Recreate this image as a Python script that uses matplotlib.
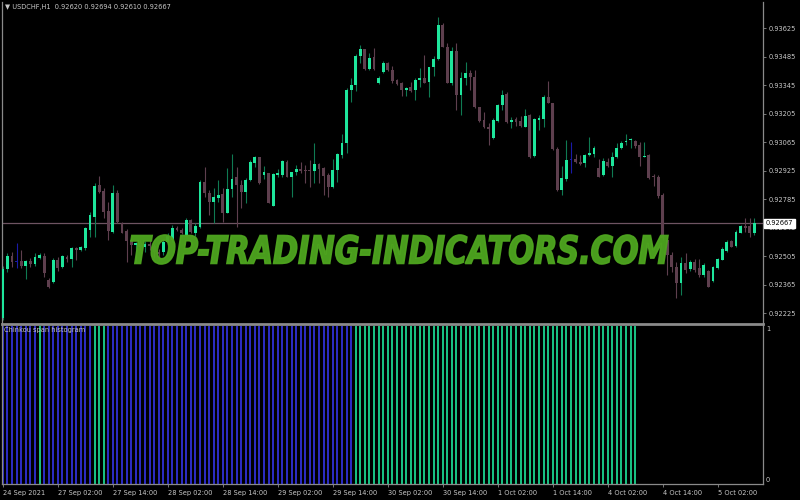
import matplotlib.pyplot as plt
import matplotlib.transforms as mtransforms
from matplotlib.textpath import TextPath
from matplotlib.patches import PathPatch
from matplotlib.font_manager import FontProperties

# USDCHF H1 candles (bar 0 = 24 Sep 14:00)
opens = [0.92200, 0.92442, 0.92505, 0.92476, 0.92481, 0.92456, 0.92481, 0.92466, 0.92496, 0.92505,
         0.92387, 0.92378, 0.92486, 0.92451, 0.92501, 0.92491, 0.92545, 0.92535, 0.92545, 0.92633,
         0.92697, 0.92855, 0.92825, 0.92727, 0.92624, 0.92815, 0.92668, 0.92628, 0.92584, 0.92560,
         0.92569, 0.92550, 0.92565, 0.92555, 0.92525, 0.92525, 0.92574, 0.92584, 0.92643, 0.92633,
         0.92609, 0.92683, 0.92619, 0.92648, 0.92870, 0.92815, 0.92771, 0.92791, 0.92811, 0.92717,
         0.92835, 0.92894, 0.92855, 0.92820, 0.92879, 0.92963, 0.92993, 0.92904, 0.92914, 0.92751,
         0.92904, 0.92904, 0.92968, 0.92894, 0.92919, 0.92934, 0.92929, 0.92929, 0.92924, 0.92958,
         0.92938, 0.92904, 0.92845, 0.92929, 0.93002, 0.93061, 0.93322, 0.93347, 0.93489, 0.93524,
         0.93426, 0.93485, 0.93357, 0.93411, 0.93455, 0.93421, 0.93371, 0.93357, 0.93322, 0.93337,
         0.93322, 0.93371, 0.93381, 0.93362, 0.93435, 0.93475, 0.93642, 0.93534, 0.93357, 0.93514,
         0.93298, 0.93381, 0.93406, 0.93386, 0.93239, 0.93175, 0.93140, 0.93086, 0.93170, 0.93248,
         0.93303, 0.93165, 0.93180, 0.93170, 0.93140, 0.93199, 0.92997, 0.93175, 0.93180, 0.93288,
         0.93258, 0.93032, 0.92830, 0.92884, 0.92978, 0.92983, 0.92968, 0.92963, 0.93002, 0.93007,
         0.92938, 0.92904, 0.92968, 0.92948, 0.92993, 0.93037, 0.93066, 0.93076, 0.93071, 0.93052,
         0.92993, 0.93002, 0.92899, 0.92894, 0.92806, 0.92584, 0.92510, 0.92451, 0.92373, 0.92471,
         0.92442, 0.92476, 0.92446, 0.92412, 0.92432, 0.92382, 0.92446, 0.92486, 0.92530, 0.92579,
         0.92555, 0.92619, 0.92653, 0.92653, 0.92620]
highs = [0.92456, 0.92520, 0.92525, 0.92569, 0.92535, 0.92486, 0.92496, 0.92520, 0.92520, 0.92520,
         0.92397, 0.92496, 0.92501, 0.92510, 0.92510, 0.92550, 0.92550, 0.92555, 0.92648, 0.92722,
         0.92865, 0.92899, 0.92840, 0.92771, 0.92855, 0.92830, 0.92673, 0.92638, 0.92594, 0.92574,
         0.92584, 0.92579, 0.92584, 0.92565, 0.92540, 0.92584, 0.92619, 0.92658, 0.92653, 0.92643,
         0.92692, 0.92688, 0.92668, 0.92879, 0.92943, 0.92830, 0.92840, 0.92879, 0.92840, 0.92938,
         0.93007, 0.92943, 0.92879, 0.92889, 0.92978, 0.92997, 0.92993, 0.92948, 0.92914, 0.92914,
         0.92934, 0.92978, 0.92978, 0.92919, 0.92953, 0.92968, 0.92953, 0.92978, 0.93061, 0.92963,
         0.92943, 0.92914, 0.92983, 0.93012, 0.93106, 0.93332, 0.93381, 0.93499, 0.93544, 0.93524,
         0.93504, 0.93529, 0.93391, 0.93465, 0.93460, 0.93440, 0.93376, 0.93362, 0.93337, 0.93362,
         0.93381, 0.93430, 0.93494, 0.93435, 0.93489, 0.93681, 0.93652, 0.93553, 0.93534, 0.93553,
         0.93411, 0.93460, 0.93421, 0.93421, 0.93239, 0.93214, 0.93160, 0.93184, 0.93253, 0.93322,
         0.93312, 0.93189, 0.93189, 0.93194, 0.93229, 0.93204, 0.93184, 0.93199, 0.93298, 0.93366,
         0.93258, 0.93042, 0.92948, 0.93076, 0.93066, 0.93007, 0.93002, 0.93007, 0.93091, 0.93047,
         0.92983, 0.92988, 0.92988, 0.93017, 0.93061, 0.93071, 0.93106, 0.93086, 0.93076, 0.93066,
         0.93066, 0.93007, 0.92909, 0.92904, 0.92815, 0.92599, 0.92525, 0.92476, 0.92501, 0.92520,
         0.92486, 0.92491, 0.92491, 0.92471, 0.92437, 0.92456, 0.92496, 0.92550, 0.92584, 0.92584,
         0.92633, 0.92658, 0.92692, 0.92692, 0.92694]
lows = [0.92191, 0.92427, 0.92451, 0.92446, 0.92446, 0.92392, 0.92451, 0.92456, 0.92491, 0.92402,
        0.92348, 0.92373, 0.92432, 0.92446, 0.92476, 0.92451, 0.92486, 0.92530, 0.92535, 0.92599,
        0.92599, 0.92815, 0.92692, 0.92584, 0.92619, 0.92668, 0.92619, 0.92476, 0.92510, 0.92476,
        0.92535, 0.92525, 0.92535, 0.92496, 0.92486, 0.92510, 0.92560, 0.92574, 0.92628, 0.92614,
        0.92604, 0.92619, 0.92604, 0.92643, 0.92796, 0.92707, 0.92668, 0.92771, 0.92673, 0.92717,
        0.92796, 0.92648, 0.92742, 0.92766, 0.92874, 0.92943, 0.92860, 0.92884, 0.92766, 0.92751,
        0.92894, 0.92894, 0.92894, 0.92796, 0.92904, 0.92914, 0.92865, 0.92845, 0.92865, 0.92865,
        0.92806, 0.92796, 0.92840, 0.92870, 0.92988, 0.93012, 0.93263, 0.93317, 0.93455, 0.93421,
        0.93421, 0.93421, 0.93352, 0.93406, 0.93416, 0.93357, 0.93347, 0.93293, 0.93293, 0.93312,
        0.93273, 0.93337, 0.93357, 0.93288, 0.93391, 0.93470, 0.93534, 0.93357, 0.93347, 0.93224,
        0.93199, 0.93347, 0.93322, 0.93234, 0.93165, 0.93135, 0.93052, 0.93081, 0.93165, 0.93224,
        0.93160, 0.93135, 0.93145, 0.93140, 0.93140, 0.92988, 0.92993, 0.93125, 0.93140, 0.93258,
        0.93027, 0.92825, 0.92806, 0.92874, 0.92914, 0.92963, 0.92953, 0.92943, 0.92997, 0.92993,
        0.92894, 0.92899, 0.92943, 0.92894, 0.92988, 0.93032, 0.93052, 0.93037, 0.93037, 0.92948,
        0.92993, 0.92884, 0.92850, 0.92791, 0.92584, 0.92412, 0.92427, 0.92299, 0.92314, 0.92422,
        0.92432, 0.92427, 0.92402, 0.92402, 0.92353, 0.92378, 0.92442, 0.92486, 0.92525, 0.92550,
        0.92550, 0.92619, 0.92624, 0.92599, 0.92610]
closes = [0.92442, 0.92505, 0.92476, 0.92476, 0.92456, 0.92481, 0.92466, 0.92501, 0.92510, 0.92422,
          0.92353, 0.92486, 0.92446, 0.92505, 0.92491, 0.92545, 0.92535, 0.92550, 0.92643, 0.92707,
          0.92850, 0.92820, 0.92722, 0.92628, 0.92815, 0.92673, 0.92619, 0.92579, 0.92560, 0.92569,
          0.92550, 0.92565, 0.92555, 0.92525, 0.92515, 0.92574, 0.92604, 0.92643, 0.92633, 0.92619,
          0.92683, 0.92624, 0.92653, 0.92870, 0.92815, 0.92771, 0.92796, 0.92806, 0.92717, 0.92835,
          0.92884, 0.92855, 0.92820, 0.92879, 0.92968, 0.92993, 0.92865, 0.92919, 0.92766, 0.92909,
          0.92914, 0.92973, 0.92894, 0.92919, 0.92934, 0.92924, 0.92924, 0.92924, 0.92958, 0.92934,
          0.92899, 0.92845, 0.92929, 0.93007, 0.93061, 0.93322, 0.93347, 0.93489, 0.93524, 0.93426,
          0.93480, 0.93426, 0.93381, 0.93455, 0.93421, 0.93366, 0.93352, 0.93322, 0.93332, 0.93317,
          0.93371, 0.93381, 0.93357, 0.93435, 0.93475, 0.93642, 0.93534, 0.93357, 0.93514, 0.93298,
          0.93381, 0.93406, 0.93386, 0.93239, 0.93170, 0.93140, 0.93130, 0.93175, 0.93248, 0.93298,
          0.93165, 0.93175, 0.93165, 0.93145, 0.93194, 0.92993, 0.93180, 0.93184, 0.93288, 0.93258,
          0.93032, 0.92830, 0.92889, 0.92978, 0.92978, 0.92968, 0.92958, 0.93002, 0.93012, 0.93037,
          0.92894, 0.92973, 0.92948, 0.92993, 0.93037, 0.93061, 0.93071, 0.93081, 0.93047, 0.92993,
          0.92997, 0.92889, 0.92894, 0.92801, 0.92594, 0.92510, 0.92451, 0.92373, 0.92471, 0.92437,
          0.92476, 0.92437, 0.92412, 0.92461, 0.92353, 0.92451, 0.92491, 0.92540, 0.92574, 0.92550,
          0.92624, 0.92653, 0.92643, 0.92619, 0.92667]

# Chinkou span histogram: 1 = blue bar, 0 = green bar (last 26 bars are empty)
chinkou_blue = [1] * 77 + [0] * 62
for i in (8, 20, 21, 22):
    chinkou_blue[i] = 0

time_bars = [0, 12, 24, 36, 48, 60, 72, 84, 96, 108, 120, 132, 144, 156]
time_labels = ["24 Sep 2021", "27 Sep 02:00", "27 Sep 14:00", "28 Sep 02:00", "28 Sep 14:00",
               "29 Sep 02:00", "29 Sep 14:00", "30 Sep 02:00", "30 Sep 14:00", "1 Oct 02:00",
               "1 Oct 14:00", "4 Oct 02:00", "4 Oct 14:00", "5 Oct 02:00"]
price_ticks = [0.93625, 0.93485, 0.93345, 0.93205, 0.93065, 0.92925, 0.92785,
               0.92645, 0.92505, 0.92365, 0.92225]
last_price = 0.92667
header = "\u25bc USDCHF,H1  0.92620 0.92694 0.92610 0.92667"

BULL = '#1ee69c'
BULL_WICK = '#0f7a52'
BEAR = '#5e3f4e'
DOJI = '#1a1aa8'
HIST_BLUE = '#3434e8'
FRAME = '#8a8a8a'
TXT = '#c8c8c8'
MARK = '#4ea51f'

fig = plt.figure(figsize=(8, 5), dpi=100, facecolor='black')
W, H = 800, 500
ax = fig.add_axes([2 / W, (H - 323) / H, 761 / W, 321 / H], facecolor='black')
ax2 = fig.add_axes([2 / W, (H - 484) / H, 761 / W, 160 / H], facecolor='black')

xs = list(range(len(closes)))
body_c, wick_c, bottoms, heights = [], [], [], []
for o, c in zip(opens, closes):
    if c > o:
        body_c.append(BULL)
        wick_c.append(BULL_WICK)
    elif c < o:
        body_c.append(BEAR)
        wick_c.append(BEAR)
    else:
        body_c.append(DOJI)
        wick_c.append(DOJI)
    bottoms.append(min(o, c))
    heights.append(max(abs(c - o), 0.00004))

ax.vlines(xs, lows, highs, colors=wick_c, linewidth=0.8, zorder=2)
ax.bar(xs, heights, bottom=bottoms, width=0.62, color=body_c, linewidth=0, zorder=3)
ax.axhline(last_price, color='#6e5462', linewidth=0.9, zorder=1)

ax.set_xlim(-0.2, 165.9)
ax.set_ylim(0.92176, 0.93755)
ax.yaxis.tick_right()
ax.set_yticks(price_ticks)
ax.set_yticklabels([f"{p:.5f}" for p in price_ticks])
ax.tick_params(axis='y', colors=FRAME, labelcolor=TXT, labelsize=4.8, length=2.5, width=0.6, pad=1.5)
ax.tick_params(axis='x', bottom=False, labelbottom=False)
for s in ax.spines.values():
    s.set_color(FRAME)
    s.set_linewidth(0.9)
ax.spines['top'].set_visible(False)
ax.spines['bottom'].set_visible(False)

# current price tag
trans = mtransforms.blended_transform_factory(ax.transAxes, ax.transData)
ax.text(1.004, last_price, f"{last_price:.5f}", transform=trans, fontsize=4.8, color='black',
        va='center', ha='left', zorder=5,
        bbox=dict(boxstyle='square,pad=0.25', facecolor='white', edgecolor='white'))

# histogram panel
hx = list(range(len(chinkou_blue)))
hcol = [HIST_BLUE if b else BULL for b in chinkou_blue]
ax2.vlines(hx, 0, 1, colors=hcol, linewidth=1.2)
ax2.set_xlim(-0.2, 165.9)
ax2.set_ylim(0, 1.01)
ax2.set_yticks([])
ax2.set_xticks(time_bars)
ax2.set_xticklabels(time_labels, ha='left')
ax2.tick_params(axis='x', colors=FRAME, labelcolor=TXT, labelsize=4.8, length=2.5, width=0.6, pad=2)
for s in ax2.spines.values():
    s.set_color(FRAME)
    s.set_linewidth(0.9)
ax2.spines['top'].set_linewidth(2.0)
ax2.text(1.004, 0.99, "1", transform=ax2.transAxes, fontsize=4.8, color=TXT, va='top', ha='left')
ax2.text(1.004, 0.005, "0", transform=ax2.transAxes, fontsize=4.8, color=TXT, va='bottom', ha='left')
ax2.text(0.003, 0.98, "Chinkou span histogram", transform=ax2.transAxes, fontsize=4.8,
         color=TXT, va='top', ha='left')

fig.text(5 / W, 1 - 7 / H, header, fontsize=4.8, color=TXT, va='center', ha='left')

# watermark
fp = FontProperties(family='DejaVu Sans', weight='bold', style='italic')
tp = TextPath((0, 0), "TOP-TRADING-INDICATORS.COM", size=1, prop=fp)
bb = tp.get_extents()
x0, x1, ytop, ybot = 131, 668, 235, 264
tr = (mtransforms.Affine2D()
      .translate(-bb.x0, -bb.y0)
      .scale((x1 - x0) / bb.width / W, (ybot - ytop) / bb.height / H)
      .translate(x0 / W, (H - ybot) / H)) + fig.transFigure
fig.add_artist(PathPatch(tp, transform=tr, facecolor=MARK, edgecolor=MARK,
                         linewidth=1.2, alpha=0.95, zorder=10))

fig.savefig("out.png", dpi=100, facecolor='black')
